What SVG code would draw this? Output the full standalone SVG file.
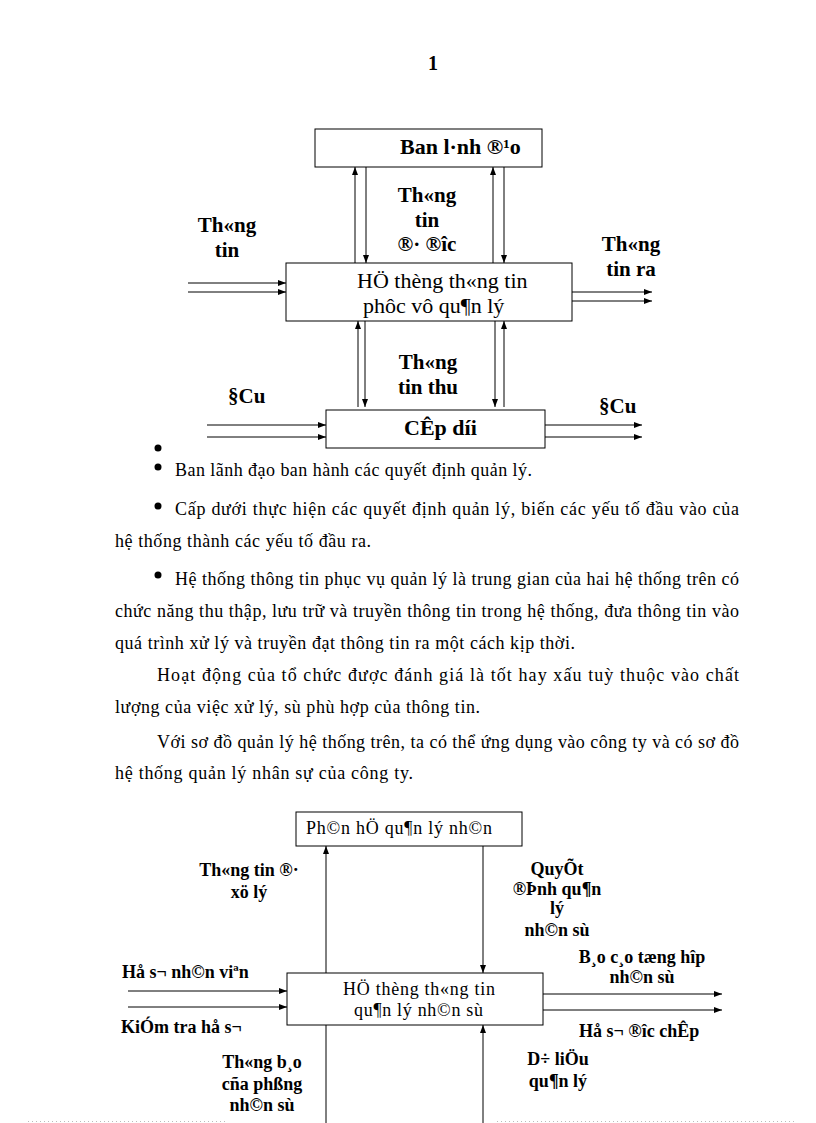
<svg xmlns="http://www.w3.org/2000/svg" width="816" height="1123" viewBox="0 0 816 1123">
<style>
text{font-family:"Liberation Serif","Times New Roman",serif;fill:#000}
.b{font-weight:bold}
.t21{font-size:21px}
.t22{font-size:22px}
.l17{font-size:18px;font-weight:bold}
.bx{font-size:18px}
.p{font-size:18px}
.m{text-anchor:middle}
.box{fill:#fff;stroke:#000;stroke-width:1}
.c{stroke:#000;stroke-width:1;fill:none}
.ar{marker-end:url(#ah)}
.dot{stroke:#bbb;stroke-width:1;stroke-dasharray:1 3}
</style>
<defs>
<marker id="ah" markerUnits="userSpaceOnUse" markerWidth="9" markerHeight="7" refX="8" refY="3" orient="auto">
<path d="M0,0 L8,3 L0,6 z" fill="#000"/>
</marker>
</defs>
<rect width="816" height="1123" fill="#fff"/>
<text class="b" x="433" y="70" font-size="20" text-anchor="middle">1</text>

<g id="connectors-top">
<line class="c ar" x1="355" y1="263" x2="355" y2="167"/>
<line class="c ar" x1="366" y1="167" x2="366" y2="263"/>
<line class="c ar" x1="493" y1="263" x2="493" y2="167"/>
<line class="c ar" x1="504" y1="167" x2="504" y2="263"/>
<line class="c ar" x1="188" y1="283" x2="286" y2="283"/>
<line class="c ar" x1="188" y1="292" x2="286" y2="292"/>
<line class="c ar" x1="572" y1="292" x2="652" y2="292"/>
<line class="c ar" x1="572" y1="301" x2="652" y2="301"/>
<line class="c ar" x1="358" y1="407" x2="358" y2="321"/>
<line class="c ar" x1="365" y1="321" x2="365" y2="407"/>
<line class="c ar" x1="495" y1="321" x2="495" y2="407"/>
<line class="c ar" x1="504" y1="407" x2="504" y2="321"/>
<line class="c ar" x1="207" y1="425" x2="326" y2="425"/>
<line class="c ar" x1="207" y1="437" x2="326" y2="437"/>
<line class="c ar" x1="545" y1="425" x2="642" y2="425"/>
<line class="c ar" x1="545" y1="437" x2="642" y2="437"/>
</g>

<g id="ban-lanh-dao">
<rect class="box" x="315" y="129" width="227" height="38"/>
<text class="b t22" x="400" y="154">Ban l·nh ®¹o</text>
</g>
<g id="he-thong-phuc-vu">
<rect class="box" x="286" y="263" width="286" height="58"/>
<text class="t22" x="357" y="288">HÖ thèng th«ng tin</text>
<text class="t22" x="363" y="313">phôc vô qu¶n lý</text>
</g>
<g id="cap-duoi">
<rect class="box" x="326" y="410" width="219" height="38"/>
<text class="b t22" x="404" y="435">CÊp díi</text>
</g>

<g id="labels-top">
<text class="b t21 m" x="227" y="232">Th«ng</text>
<text class="b t21 m" x="227" y="257">tin</text>
<text class="b t21 m" x="427" y="202">Th«ng</text>
<text class="b t21 m" x="427" y="227">tin</text>
<text class="b t21 m" x="427" y="251">®· ®îc</text>
<text class="b t21 m" x="631" y="251">Th«ng</text>
<text class="b t21 m" x="631" y="276">tin ra</text>
<text class="b t21 m" x="428" y="369">Th«ng</text>
<text class="b t21 m" x="428" y="394">tin thu</text>
<text class="b t21" x="228" y="403">§Cu</text>
<text class="b t21" x="599" y="413">§Cu</text>
</g>

<g id="paragraphs">
<circle cx="158" cy="448" r="3.5"/>
<circle cx="158" cy="467" r="3.5"/>
<circle cx="158" cy="506" r="3.5"/>
<circle cx="158" cy="575" r="3.5"/>
<text class="p" x="175" y="476" textLength="357">Ban lãnh đạo ban hành các quyết định quản lý.</text>
<text class="p" x="175" y="515" textLength="564">Cấp dưới thực hiện các quyết định quản lý, biến các yếu tố đầu vào của</text>
<text class="p" x="115" y="547" textLength="256">hệ thống thành các yếu tố đầu ra.</text>
<text class="p" x="175" y="585" textLength="564">Hệ thống thông tin phục vụ quản lý là trung gian của hai hệ thống trên có</text>
<text class="p" x="115" y="617" textLength="624">chức năng thu thập, lưu trữ và truyền thông tin trong hệ thống, đưa thông tin vào</text>
<text class="p" x="115" y="649" textLength="460">quá trình xử lý và truyền đạt thông tin ra một cách kịp thời.</text>
<text class="p" x="157" y="681" textLength="582">Hoạt động của tổ chức được đánh giá là tốt hay xấu tuỳ thuộc vào chất</text>
<text class="p" x="115" y="713" textLength="365">lượng của việc xử lý, sù phù hợp của thông tin.</text>
<text class="p" x="157" y="748" textLength="582">Với sơ đồ quản lý hệ thống trên, ta có thể ứng dụng vào công ty và có sơ đồ</text>
<text class="p" x="115" y="779" textLength="298">hệ thống quản lý nhân sự của công ty.</text>
</g>

<g id="connectors-bottom">
<line class="c ar" x1="326" y1="973" x2="326" y2="846"/>
<line class="c ar" x1="483" y1="846" x2="483" y2="973"/>
<line class="c" x1="326" y1="1025" x2="326" y2="1123"/>
<line class="c ar" x1="483" y1="1123" x2="483" y2="1025"/>
<line class="c ar" x1="128" y1="991" x2="287" y2="991"/>
<line class="c ar" x1="128" y1="1007" x2="287" y2="1007"/>
<line class="c ar" x1="543" y1="994" x2="722" y2="994"/>
<line class="c ar" x1="543" y1="1010" x2="722" y2="1010"/>
</g>

<g id="phan-he-quan-ly">
<rect class="box" x="296" y="812" width="226" height="34"/>
<text class="bx" x="306" y="834" textLength="186">Ph©n hÖ qu¶n lý nh©n</text>
</g>
<g id="he-thong-quan-ly-nhan-su">
<rect class="box" x="287" y="973" width="256" height="52"/>
<text class="bx" x="343" y="995" textLength="152">HÖ thèng th«ng tin</text>
<text class="bx" x="354" y="1016" textLength="129">qu¶n lý nh©n sù</text>
</g>

<g id="labels-bottom">
<text class="l17 m" x="249" y="876">Th«ng tin ®·</text>
<text class="l17 m" x="249" y="898">xö lý</text>
<text class="l17 m" x="557" y="875">QuyÕt</text>
<text class="l17 m" x="557" y="895">®Þnh qu¶n</text>
<text class="l17 m" x="557" y="914">lý</text>
<text class="l17 m" x="557" y="936">nh©n sù</text>
<text class="l17 m" x="642" y="963">B¸o c¸o tæng hîp</text>
<text class="l17 m" x="642" y="983">nh©n sù</text>
<text class="l17" x="579" y="1037">Hå s¬ ®îc  chÊp</text>
<text class="l17 m" x="558" y="1065">D÷ liÖu</text>
<text class="l17 m" x="558" y="1087">qu¶n lý</text>
<text class="l17" x="122" y="978">Hå s¬ nh©n viªn</text>
<text class="l17" x="121" y="1033">KiÓm tra hå s¬</text>
<text class="l17 m" x="262" y="1068">Th«ng b¸o</text>
<text class="l17 m" x="262" y="1090">cña phßng</text>
<text class="l17 m" x="262" y="1111">nh©n sù</text>
</g>

<line class="dot" x1="28" y1="1121.5" x2="225" y2="1121.5"/>
<line class="dot" x1="497" y1="1121.5" x2="796" y2="1121.5"/>
</svg>
